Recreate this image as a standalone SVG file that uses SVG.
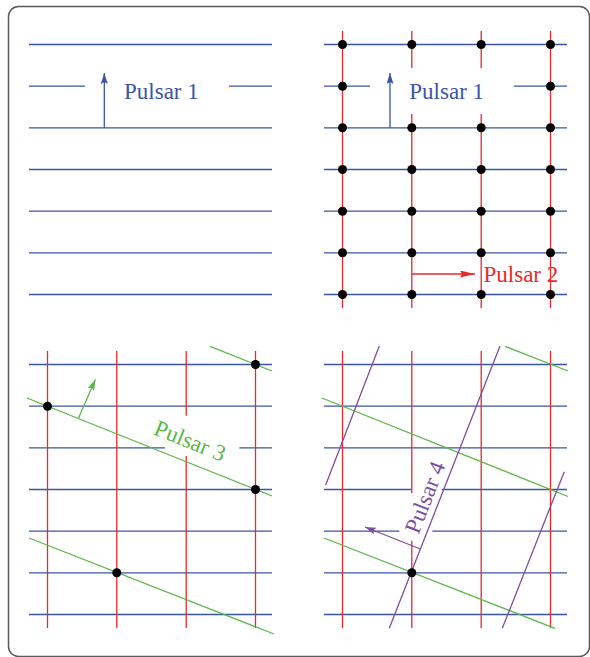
<svg xmlns="http://www.w3.org/2000/svg" width="590" height="657" viewBox="0 0 590 657">
<style>
.b{stroke:#3b55a5;stroke-width:1.3;fill:none}
.r{stroke:#e8282b;stroke-width:1.3;fill:none}
.g{stroke:#5bb847;stroke-width:1.3;fill:none}
.p{stroke:#7d4f9e;stroke-width:1.3;fill:none}
.d{fill:#000}
text{font-family:'Liberation Serif','Times New Roman',serif;font-size:23px}
</style>
<defs>
<marker id="ab" markerUnits="userSpaceOnUse" markerWidth="12" markerHeight="8" refX="11" refY="3.5" orient="auto"><path d="M0,0 L11,3.5 L0,7 L2,3.5 z" fill="#3b55a5"/></marker>
<marker id="ar" markerUnits="userSpaceOnUse" markerWidth="16" markerHeight="8" refX="15" refY="3.5" orient="auto"><path d="M0,0 L15,3.5 L0,7 L2,3.5 z" fill="#e8282b"/></marker>
<marker id="ag" markerUnits="userSpaceOnUse" markerWidth="12" markerHeight="8" refX="11" refY="3.5" orient="auto"><path d="M0,0 L11,3.5 L0,7 L2,3.5 z" fill="#5bb847"/></marker>
<marker id="ap" markerUnits="userSpaceOnUse" markerWidth="12" markerHeight="8" refX="11" refY="3.5" orient="auto"><path d="M0,0 L11,3.5 L0,7 L2,3.5 z" fill="#7d4f9e"/></marker>
</defs>
<rect x="8.5" y="6.5" width="581" height="650" rx="10" fill="none" stroke="#5a5a5a" stroke-width="1.5"/>

<g id="panel1">
<path class="b" d="M29,44.5H272 M29,86.2H85 M229,86.2H272 M29,127.8H272 M29,169.5H272 M29,211.2H272 M29,252.8H272 M29,294.5H272"/>
<line class="b" x1="104.3" y1="127.8" x2="104.3" y2="73" marker-end="url(#ab)"/>
<text x="124" y="99" fill="#3b55a5">Pulsar 1</text>
</g>

<g id="panel2">
<path class="b" d="M324,44.5H567 M324,86.2H370 M514,86.2H567 M324,127.8H567 M324,169.5H567 M324,211.2H567 M324,252.8H567 M324,294.5H567"/>
<path class="r" d="M342.5,31V308 M411.8,31V68 M411.8,114V308 M481.2,31V68 M481.2,114V308 M550.5,31V308"/>
<line class="b" x1="390" y1="127.8" x2="390" y2="73" marker-end="url(#ab)"/>
<text x="409.3" y="99" fill="#3b55a5">Pulsar 1</text>
<line class="r" x1="411.8" y1="274" x2="475" y2="274" marker-end="url(#ar)"/>
<text x="483.5" y="281.7" fill="#e8282b">Pulsar 2</text>
<g class="d">
<circle cx="342.5" cy="44.5" r="4.5"/><circle cx="411.8" cy="44.5" r="4.5"/><circle cx="481.2" cy="44.5" r="4.5"/><circle cx="550.5" cy="44.5" r="4.5"/>
<circle cx="342.5" cy="86.2" r="4.5"/><circle cx="550.5" cy="86.2" r="4.5"/>
<circle cx="342.5" cy="127.8" r="4.5"/><circle cx="411.8" cy="127.8" r="4.5"/><circle cx="481.2" cy="127.8" r="4.5"/><circle cx="550.5" cy="127.8" r="4.5"/>
<circle cx="342.5" cy="169.5" r="4.5"/><circle cx="411.8" cy="169.5" r="4.5"/><circle cx="481.2" cy="169.5" r="4.5"/><circle cx="550.5" cy="169.5" r="4.5"/>
<circle cx="342.5" cy="211.2" r="4.5"/><circle cx="411.8" cy="211.2" r="4.5"/><circle cx="481.2" cy="211.2" r="4.5"/><circle cx="550.5" cy="211.2" r="4.5"/>
<circle cx="342.5" cy="252.8" r="4.5"/><circle cx="411.8" cy="252.8" r="4.5"/><circle cx="481.2" cy="252.8" r="4.5"/><circle cx="550.5" cy="252.8" r="4.5"/>
<circle cx="342.5" cy="294.5" r="4.5"/><circle cx="411.8" cy="294.5" r="4.5"/><circle cx="481.2" cy="294.5" r="4.5"/><circle cx="550.5" cy="294.5" r="4.5"/>
</g>
</g>

<g id="panel3">
<path class="b" d="M29,364.5H272 M29,406.2H272 M29,447.8H165 M239.3,447.8H272 M29,489.5H272 M29,531.2H272 M29,572.8H272 M29,614.5H272"/>
<path class="r" d="M47.5,351V628 M116.8,351V628 M186.2,351V415.7 M186.2,456V628 M255.5,351V628"/>
<path class="g" d="M27,398L272,496 M29,538L274,634 M210,346.3L272,371"/>
<line class="g" x1="78.3" y1="418.5" x2="95.3" y2="379.5" marker-end="url(#ag)"/>
<text fill="#5bb847" transform="translate(152.5,434) rotate(21.8)">Pulsar 3</text>
<g class="d">
<circle cx="47.5" cy="406.2" r="4.5"/><circle cx="255.5" cy="364.5" r="4.5"/><circle cx="255.5" cy="489.5" r="4.5"/><circle cx="116.8" cy="572.8" r="4.5"/>
</g>
</g>

<g id="panel4">
<path class="b" d="M324,364.5H567 M324,406.2H567 M324,447.8H567 M324,489.5H412 M441.7,489.5H567 M324,531.2H399.3 M432.3,531.2H567 M324,572.8H567 M324,614.5H567"/>
<path class="r" d="M342.5,351V628 M411.8,351V493.3 M411.8,540.7V628 M481.2,351V628 M550.5,351V628"/>
<path class="g" d="M322,398L568,496.5 M324,538L555,628.3 M505,346.3L568,371"/>
<path class="p" d="M325.7,485L379.3,346 M389.3,628.3L500,346 M502.3,628.3L564.3,471.7"/>
<line class="p" x1="420.4" y1="549" x2="365" y2="527" marker-end="url(#ap)"/>
<text fill="#7d4f9e" transform="translate(418.5,535) rotate(-68.6)">Pulsar 4</text>
<circle class="d" cx="411.8" cy="572.8" r="4.5"/>
</g>
</svg>
